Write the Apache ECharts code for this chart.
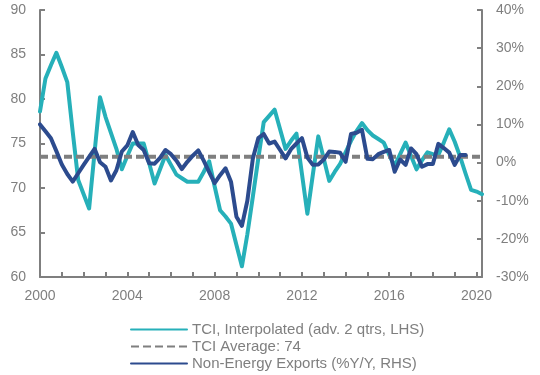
<!DOCTYPE html>
<html>
<head>
<meta charset="utf-8">
<script src="https://cdn.jsdelivr.net/npm/echarts@6/dist/echarts.min.js"></script>
<style>
html,body{margin:0;padding:0;background:#fff;}
#chart{width:540px;height:375px;}
</style>
</head>
<body>
<div id="chart"></div>
<script>
// Quarterly categories 2000Q1 .. 2020Q2
const years = [2000,2001,2002,2003,2004,2005,2006,2007,2008,2009,2010,2011,2012,2013,2014,2015,2016,2017,2018,2019,2020];
const categories = [];
years.forEach(y => { for (let q = 1; q <= 4; q++) { if (y === 2020 && q > 2) break; categories.push(y + 'Q' + q); } });

const tciInterpolated = [
  78.6, 82.3, 83.8, 85.2, 83.6, 81.9, 76.3, 70.9, 69.3, 67.7,
  74.0, 80.2, 78.0, 76.2, 74.4, 72.1, 73.6, 75.0, 75.0, 75.0,
  72.8, 70.5, 72.1, 73.7, 72.6, 71.5, 71.1, 70.7, 70.7, 70.7,
  71.8, 73.0, 70.2, 67.5, 66.8, 66.0, 63.6, 61.2, 64.8, 69.0,
  73.3, 77.4, 78.1, 78.8, 76.6, 74.4, 75.3, 76.1, 71.6, 67.1,
  71.5, 75.8, 73.3, 70.8, 71.8, 72.7, 74.0, 75.3, 76.4, 77.3,
  76.5, 75.9, 75.5, 75.1, 73.7, 72.5, 73.8, 75.1, 73.6, 72.1,
  73.1, 74.0, 73.8, 73.7, 75.1, 76.6, 75.2, 73.5, 71.6, 69.8,
  69.6, 69.3
];

const nonEnergyExports = [
  10.0, 8.2, 6.4, 3.0, -0.5, -3.0, -5.0, -2.8, -0.6, 1.5,
  3.6, 0.1, -1.1, -4.7, -2.0, 2.9, 4.5, 8.0, 4.6, 3.3,
  -0.2, -0.3, 1.2, 3.3, 2.2, 0.5, -1.7, 0.2, 1.8, 3.2,
  0.5, -2.5, -5.4, -3.3, -1.5, -5.0, -14.2, -16.6, -10.0, 1.0,
  6.4, 7.5, 5.0, 5.5, 3.3, 1.1, 3.5, 5.0, 6.4, 1.3,
  -0.6, -0.5, 0.8, 2.9, 2.8, 2.6, 0.2, 7.5, 7.8, 8.6,
  1.0, 0.9, 2.2, 2.8, 3.3, -2.4, 0.8, -0.6, 3.7, 2.2,
  -1.1, -0.4, -0.4, 4.9, 3.8, 2.6, -0.6, 2.0, 2.0
];

const tciAverageLevel = 73.5;
const leftTicks = { min: 60, max: 90, interval: 5 };
const rightTicks = { min: -30, max: 40, interval: 10 };
const names = ['TCI, Interpolated (adv. 2 qtrs, LHS)', 'TCI Average: 74', 'Non-Energy Exports (%Y/Y, RHS)'];

const gray = '#7f7f7f';
const teal = '#26b0b9';
const navy = '#2c4b8e';
const fontFamily = '"Liberation Sans", "DejaVu Sans", sans-serif';

const chart = echarts.init(document.getElementById('chart'), null, { renderer: 'canvas' });
chart.setOption({
  animation: false,
  backgroundColor: '#fff',
  grid: { left: 40, right: 58, top: 10, bottom: 98, containLabel: false },
  legend: {
    orient: 'vertical',
    left: 125,
    top: 317,
    height: 58,
    itemWidth: 56,
    itemHeight: 12,
    itemGap: 2,
    itemStyle: { opacity: 0 },
    textStyle: { color: gray, fontSize: 15, fontFamily: fontFamily, padding: [0, 0, 0, 0] },
    data: names
  },
  xAxis: {
    type: 'category',
    data: categories,
    boundaryGap: false,
    axisLine: { onZero: false, lineStyle: { color: gray, width: 2 } },
    axisTick: { show: true, inside: true, length: 5, interval: 3, lineStyle: { color: gray, width: 2 } },
    axisLabel: {
      interval: 15,
      color: gray,
      fontSize: 14,
      fontFamily: fontFamily,
      margin: 12,
      formatter: v => v.slice(0, 4)
    },
    splitLine: { show: false }
  },
  yAxis: [
    {
      type: 'value',
      min: leftTicks.min, max: leftTicks.max, interval: leftTicks.interval,
      position: 'left',
      axisLine: { show: true, lineStyle: { color: gray, width: 2 } },
      axisTick: { show: true, inside: true, length: 5, lineStyle: { color: gray, width: 2 } },
      axisLabel: { color: gray, fontSize: 14, fontFamily: fontFamily, margin: 14 },
      splitLine: { show: false }
    },
    {
      type: 'value',
      min: rightTicks.min, max: rightTicks.max, interval: rightTicks.interval,
      position: 'right',
      axisLine: { show: true, lineStyle: { color: gray, width: 2 } },
      axisTick: { show: true, inside: true, length: 5, lineStyle: { color: gray, width: 2 } },
      axisLabel: { color: gray, fontSize: 14, fontFamily: fontFamily, margin: 14, formatter: '{value}%' },
      splitLine: { show: false }
    }
  ],
  series: [
    {
      name: names[0], type: 'line', yAxisIndex: 0,
      data: tciInterpolated, showSymbol: false, symbol: 'none',
      lineStyle: { color: teal, width: 4, cap: 'round', join: 'round' }, itemStyle: { color: teal }, z: 2
    },
    {
      name: names[1], type: 'line', yAxisIndex: 0,
      data: [[categories[0], tciAverageLevel], [categories[categories.length - 1], tciAverageLevel]],
      showSymbol: false, symbol: 'none',
      lineStyle: { color: gray, width: 4, type: [8, 4] }, itemStyle: { color: gray }, z: 3
    },
    {
      name: names[2], type: 'line', yAxisIndex: 1,
      data: nonEnergyExports, showSymbol: false, symbol: 'none',
      lineStyle: { color: navy, width: 4, cap: 'round', join: 'round' }, itemStyle: { color: navy }, z: 4
    }
  ]
});
</script>
</body>
</html>
